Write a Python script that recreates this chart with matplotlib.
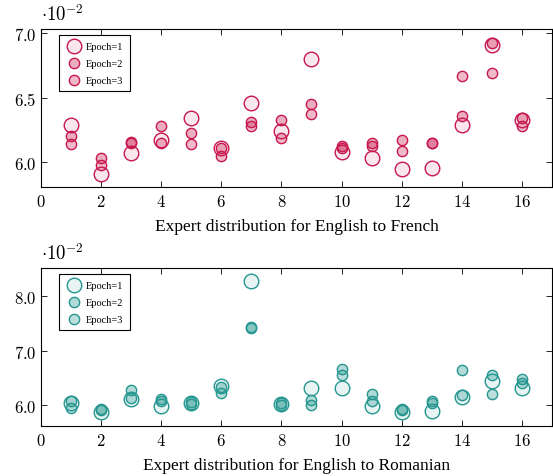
import matplotlib
matplotlib.use("Agg")
import matplotlib.pyplot as plt
from matplotlib.colors import to_rgba
from matplotlib.ticker import FuncFormatter, MultipleLocator

plt.rcParams["mathtext.fontset"] = "cm"

# expert index (x axis) shared by both panels
experts = list(range(1, 17))

# English -> French: share of tokens routed to each expert
fr_epoch1 = [0.0629, 0.0591, 0.0607, 0.0617, 0.0634, 0.0611, 0.0646, 0.0624,
             0.0680, 0.0608, 0.0603, 0.0595, 0.0596, 0.0629, 0.0691, 0.0633]
fr_epoch2 = [0.0620, 0.0603, 0.0616, 0.0628, 0.0623, 0.0611, 0.0631, 0.0633,
             0.0645, 0.0613, 0.0615, 0.0617, 0.0615, 0.0636, 0.0692, 0.0634]
fr_epoch3 = [0.0614, 0.0598, 0.0615, 0.0615, 0.0614, 0.0605, 0.0628, 0.0619,
             0.0637, 0.0611, 0.0613, 0.0609, 0.0615, 0.0667, 0.0669, 0.0628]

# English -> Romanian
ro_epoch1 = [0.0605, 0.0587, 0.0612, 0.0599, 0.0604, 0.0636, 0.0829, 0.0602,
             0.0631, 0.0631, 0.0598, 0.0587, 0.0590, 0.0615, 0.0645, 0.0632]
ro_epoch2 = [0.0607, 0.0593, 0.0628, 0.0612, 0.0606, 0.0634, 0.0744, 0.0604,
             0.0609, 0.0667, 0.0620, 0.0593, 0.0608, 0.0665, 0.0656, 0.0648]
ro_epoch3 = [0.0594, 0.0591, 0.0613, 0.0607, 0.0602, 0.0622, 0.0742, 0.0600,
             0.0601, 0.0656, 0.0608, 0.0591, 0.0604, 0.0619, 0.0620, 0.0640]

epoch_labels = ["Epoch=1", "Epoch=2", "Epoch=3"]

fig = plt.figure(figsize=(5.53, 4.77), dpi=100)
ax_fr = fig.add_axes([0.0741, 0.606, 0.924, 0.331])
ax_ro = fig.add_axes([0.0741, 0.105, 0.924, 0.331])

panels = [
    (ax_fr, [fr_epoch1, fr_epoch2, fr_epoch3], "#C8174F", (0.0581, 0.0703),
     0.005, "Expert distribution for English to French"),
    (ax_ro, [ro_epoch1, ro_epoch2, ro_epoch3], "#24968F", (0.0562, 0.0852),
     0.01, "Expert distribution for English to Romanian"),
]

for ax, series, color, ylim, ystep, xlabel in panels:
    sizes = [110, 55, 55]
    alphas = [0.1, 0.35, 0.3]
    for vals, s, a, lab in zip(series, sizes, alphas, epoch_labels):
        ax.scatter(experts, vals, s=s, facecolor=to_rgba(color, a),
                   edgecolor=color, linewidth=1.0, label=lab, zorder=3)
    ax.set_xlim(0, 17)
    ax.set_ylim(*ylim)
    ax.xaxis.set_major_locator(MultipleLocator(2))
    ax.yaxis.set_major_locator(MultipleLocator(ystep))
    ax.xaxis.set_major_formatter(FuncFormatter(lambda v, p: f"${v:.0f}$"))
    ax.yaxis.set_major_formatter(FuncFormatter(lambda v, p: f"${v * 100:.1f}$"))
    ax.tick_params(direction="in", top=True, right=True, labelsize=12,
                   length=4, width=0.6)
    for sp in ax.spines.values():
        sp.set_linewidth(0.8)
    ax.set_xlabel(xlabel, family="Liberation Serif", fontsize=12.5, labelpad=6)
    ax.text(0.0, 1.03, r"$\cdot 10^{-2}$", transform=ax.transAxes,
            ha="left", va="bottom", fontsize=13.5)
    leg = ax.legend(loc="upper left", bbox_to_anchor=(0.035, 0.962),
                    borderaxespad=0,
                    prop={"family": "Liberation Serif", "size": 7.5},
                    fancybox=False, edgecolor="black", framealpha=1,
                    handletextpad=0.2, borderpad=0.6, labelspacing=0.75,
                    handlelength=1.8)
    leg.get_frame().set_linewidth(0.8)

fig.savefig("out.png", dpi=100)
